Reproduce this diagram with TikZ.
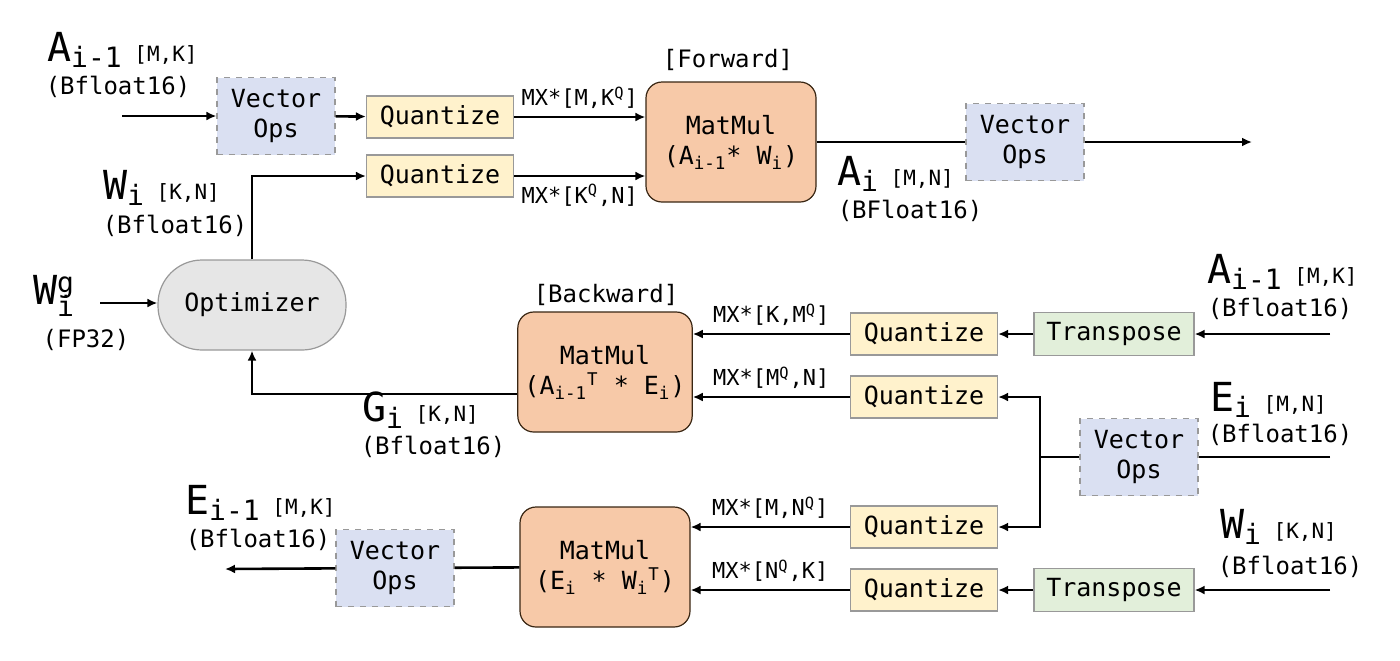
\documentclass[tikz,border=0pt]{standalone}
\usepackage{fontspec}
\setmainfont{DejaVu Sans Mono}
\usetikzlibrary{positioning,arrows.meta}
\definecolor{vecfill}{HTML}{DAE0F2}
\definecolor{qfill}{HTML}{FFF2CC}
\definecolor{mmfill}{HTML}{F7C9A8}
\definecolor{trfill}{HTML}{E2EFDA}
\definecolor{optfill}{HTML}{E6E6E6}
\newcommand{\tname}[2]{{\fontsize{20}{20}\selectfont #1}\raisebox{-0.5ex}{\fontsize{14}{14}\selectfont #2}}
\newcommand{\dims}[1]{{\fontsize{10.5}{10.5}\selectfont\ #1}}
\begin{document}
\begin{tikzpicture}[x=0.5pt,y=-0.5pt,
  box/.style={draw=gray!80, line width=0.6pt, font=\fontsize{12.5}{15}\selectfont, align=center},
  vec/.style={box, dashed, fill=vecfill, minimum width=59pt, minimum height=38.5pt},
  quant/.style={box, fill=qfill, minimum width=73.5pt, minimum height=21pt},
  trans/.style={box, fill=trfill, minimum width=80pt, minimum height=21.5pt},
  mm/.style={box, draw=black!70!brown, rounded corners=8pt, fill=mmfill, minimum width=85pt, minimum height=60pt},
  lab/.style={font=\fontsize{12}{14}\selectfont, align=center},
  mx/.style={font=\fontsize{11}{13}\selectfont},
  arr/.style={-{Latex[length=5pt,width=4.5pt]}, line width=1.3pt},
  ln/.style={line width=1.3pt}]
\useasboundingbox (0,0) rectangle (1400,660);

% Forward
\node[vec] (vecA) at (276,116) {Vector\\Ops};
\node[quant] (qA) at (440,117) {Quantize};
\node[quant] (qW) at (440,176) {Quantize};
\node[mm] (mmF) at (731,142) {MatMul\\(A\textsubscript{i-1}* W\textsubscript{i})};
\node[vec] (vecO) at (1025,142) {Vector\\Ops};
\coordinate (inA) at (122,116);
\coordinate (outF) at (1252,142);
\draw[arr] (inA) -- (vecA);
\draw[arr] (vecA) -- (qA);
\draw[arr] (qA) -- (qA -| mmF.west) node[mx, midway, above] {MX*[M,K\textsuperscript{Q}]};
\draw[arr] (qW) -- (qW -| mmF.west) node[mx, midway, below] {MX*[K\textsuperscript{Q},N]};
\draw[ln] (mmF) -- (vecO);
\draw[arr] (vecO) -- (outF);
\node[lab, anchor=west] (tA) at (40,50) {\tname{A}{i-1}\dims{[M,K]}};
\node[lab] (tAb) at (118,87) {(Bfloat16)};
\node[lab] (tFw) at (728,60) {[Forward]};
\node[lab, anchor=west] (tAi) at (830,174) {\tname{A}{i}\dims{[M,N]}};
\node[lab] (tAib) at (910,211) {(BFloat16)};

% Optimizer
\node[box, fill=optfill, rounded corners=22pt, minimum width=94pt, minimum height=45pt] (opt) at (252,305) {Optimizer};
\coordinate (inWg) at (100,303);
\draw[arr] (inWg) -- (inWg -| opt.west);
\draw[arr] (opt.north) |- (qW);
\node[lab, anchor=west] (tWi) at (96,188) {\tname{W}{i}\dims{[K,N]}};
\node[lab] (tWib) at (175,226) {(Bfloat16)};
\node[lab, anchor=west] (tWg) at (26,296) {{\fontsize{20}{20}\selectfont W}\raisebox{0.9ex}{\fontsize{14}{14}\selectfont g}\kern-8.4pt\raisebox{-0.9ex}{\fontsize{14}{14}\selectfont i}};
\node[lab] (tWgb) at (86,340) {(FP32)};

% Backward
\node[mm] (mmB) at (605,372) {MatMul\\(A\textsubscript{i-1}\textsuperscript{T} * E\textsubscript{i})};
\node[quant] (q3) at (924,334) {Quantize};
\node[quant] (q4) at (924,397) {Quantize};
\node[trans] (tr1) at (1114,334) {Transpose};
\node[vec] (vecE) at (1139,457) {Vector\\Ops};
\coordinate (inA2) at (1330,334);
\coordinate (inE) at (1330,457);
\coordinate (split) at (1040,457);
\draw[arr] (inA2) -- (tr1);
\draw[arr] (tr1) -- (q3);
\draw[arr] (q3) -- (q3 -| mmB.east) node[mx, midway, above] {MX*[K,M\textsuperscript{Q}]};
\draw[arr] (q4) -- (q4 -| mmB.east) node[mx, midway, above] {MX*[M\textsuperscript{Q},N]};
\draw[ln] (inE) -- (vecE);
\draw[ln] (vecE) -- (split);
\draw[arr] (split) |- (q4);
\draw[arr] ([yshift=-11]mmB.west) -| (opt.south);
\node[lab] (tBw) at (606,295) {[Backward]};
\node[lab, anchor=west] (tA2) at (1200,272) {\tname{A}{i-1}\dims{[M,K]}};
\node[lab] (tA2b) at (1280,309) {(Bfloat16)};
\node[lab, anchor=west] (tEi) at (1203,400) {\tname{E}{i}\dims{[M,N]}};
\node[lab] (tEib) at (1280,435) {(Bfloat16)};
\node[lab, anchor=west] (tGi) at (355,410) {\tname{G}{i}\dims{[K,N]}};
\node[lab] (tGib) at (433,447) {(Bfloat16)};

% Error backprop
\node[mm] (mmE) at (605,567) {MatMul\\(E\textsubscript{i} * W\textsubscript{i}\textsuperscript{T})};
\node[quant] (q5) at (924,527) {Quantize};
\node[quant] (q6) at (924,590) {Quantize};
\node[trans] (tr2) at (1114,590) {Transpose};
\node[vec] (vecE2) at (395,568) {Vector\\Ops};
\coordinate (inW2) at (1330,590);
\coordinate (outE) at (225,569);
\draw[arr] (split) |- (q5);
\draw[arr] (inW2) -- (tr2);
\draw[arr] (tr2) -- (q6);
\draw[arr] (q5) -- (q5 -| mmE.east) node[mx, midway, above] {MX*[M,N\textsuperscript{Q}]};
\draw[arr] (q6) -- (q6 -| mmE.east) node[mx, midway, above] {MX*[N\textsuperscript{Q},K]};
\draw[ln] (mmE) -- (vecE2);
\draw[arr] (vecE2) -- (outE);
\node[lab, anchor=west] (tEm) at (178,503) {\tname{E}{i-1}\dims{[M,K]}};
\node[lab] (tEmb) at (258,540) {(Bfloat16)};
\node[lab, anchor=west] (tW2) at (1213,527) {\tname{W}{i}\dims{[K,N]}};
\node[lab] (tW2b) at (1290,567) {(Bfloat16)};
\end{tikzpicture}
\end{document}
